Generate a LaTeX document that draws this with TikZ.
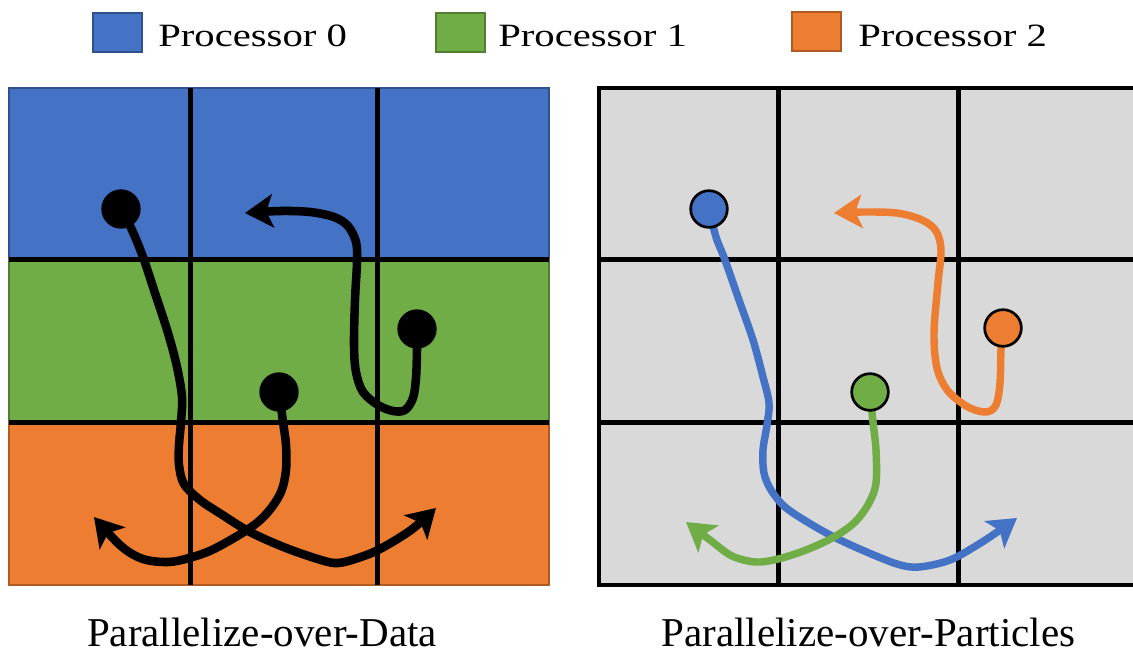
\documentclass[tikz,border=0pt]{standalone}
\usepackage{fontspec}
\setmainfont{Liberation Serif}
\newfontfamily\legendfont{Liberation Serif}[FakeStretch=1.25]
\usetikzlibrary{arrows.meta}
\definecolor{pblue}{HTML}{4472C4}
\definecolor{pgreen}{HTML}{70AD47}
\definecolor{porange}{HTML}{ED7D31}
\definecolor{pblueline}{HTML}{2F528F}
\definecolor{pgreenline}{HTML}{507E32}
\definecolor{porangeline}{HTML}{AE5A21}
\definecolor{cellgray}{HTML}{D9D9D9}
\begin{document}
\begin{tikzpicture}[x=0.75pt,y=-0.75pt,
  gridline/.style={line width=3.75pt, black},
  legendbox/.style={line width=1.2pt, minimum width=36.75pt, minimum height=29.25pt, inner sep=0pt},
  legendtext/.style={anchor=base west, inner sep=0pt, font=\legendfont\fontsize{24.4pt}{28pt}\selectfont},
  caption/.style={anchor=base, inner sep=0pt, font=\fontsize{30.75pt}{36pt}\selectfont},
  traj/.style={line width=6.4pt, line cap=round, line join=round},
  ptraj/.style={line width=5.6pt, line cap=round, line join=round},
  tip/.style={-{Stealth[length=21pt,width=25pt,inset=5pt]}},
  blackdot/.style={circle, fill=black, minimum size=29.5pt, inner sep=0pt},
  pdot/.style={circle, draw=black, line width=2pt, minimum size=27.5pt, inner sep=0pt},
]
\useasboundingbox (0,0) rectangle (1133,654);

% legend
\node[legendbox, fill=pblue, draw=pblueline] (key0) at (117.5,32.5) {};
\node[legendtext] (lab0) at (158,46) {Processor 0};
\node[legendbox, fill=pgreen, draw=pgreenline] (key1) at (460.5,32.5) {};
\node[legendtext] (lab1) at (498,46) {Processor 1};
\node[legendbox, fill=porange, draw=porangeline] (key2) at (816.5,31.5) {};
\node[legendtext] (lab2) at (858,46) {Processor 2};

% data-parallel grid: one band per processor
\filldraw[fill=pblue, draw=pblueline, line width=1pt] (9,88) rectangle (549,259);
\filldraw[fill=pgreen, draw=pgreenline, line width=1pt] (9,259) rectangle (549,422);
\filldraw[fill=porange, draw=porangeline, line width=1pt] (9,422) rectangle (549,585);
\draw[gridline] (190,88) -- (190,585);
\draw[gridline] (377,88) -- (377,585);
\draw[gridline] (9,259) -- (549,259);
\draw[gridline] (9,422) -- (549,422);

% particle-parallel grid
\begin{scope}
\clip (0,0) rectangle (1133,654);
\filldraw[fill=cellgray, draw=black, line width=2.6pt] (599,88) rectangle (1140,585);
\draw[gridline] (778,88) -- (778,585);
\draw[gridline] (958,88) -- (958,585);
\draw[gridline] (599,259) -- (1140,259);
\draw[gridline] (599,422) -- (1140,422);
\end{scope}

% particle seeds
\coordinate (sA) at (121,209);
\coordinate (sB) at (279,392);
\coordinate (sC) at (417,329);
\coordinate (tA) at (709,209);
\coordinate (tB) at (870,392);
\coordinate (tC) at (1003,328);

% trajectories, data-parallel
\draw[traj, tip] plot[smooth, tension=0.55] coordinates {(sA) (132,230) (143,257) (154,290) (168,333) (177,367) (182,397) (181,422) (179,445) (179,465) (184,484) (200,500) (221,514) (250,532) (286,548) (321,560) (338,563) (358,558) (380,549) (411,530) (436,508)};
\draw[traj, tip] plot[smooth, tension=0.55] coordinates {(sB) (283,422) (286,445) (286,470) (281,492) (268,512) (250,528) (214,549) (189,558) (168,562) (143,559) (121,546) (94,517)};
\draw[traj, tip] plot[smooth, tension=0.55] coordinates {(sC) (417,350) (416,378) (413,398) (405,410) (393,411) (378,405) (363,392) (356,372) (354,345) (355,300) (357,262) (356,242) (348,226) (334,217) (310,212) (280,211) (245,213)};

% trajectories, particle-parallel
\draw[ptraj, pblue, tip] plot[smooth, tension=0.55] coordinates {(tA) (716,237) (725,260) (739,300) (753,340) (763,377) (769,403) (767,425) (763,450) (764,473) (771,490) (785,507) (809,523) (834,537) (862,550) (897,564) (919,567) (950,560) (979,544) (1003,528) (1017,518)};
\draw[ptraj, pgreen, tip] plot[smooth, tension=0.55] coordinates {(tB) (873,422) (876,450) (876,483) (869,503) (855,522) (834,537) (806,550) (778,559) (756,562) (732,556) (710,540) (686,522)};
\draw[ptraj, porange, tip] plot[smooth, tension=0.55] coordinates {(tC) (1001,350) (1000,383) (996,405) (986,412) (968,407) (948,391) (937,368) (934,333) (938,283) (941,250) (936,231) (922,220) (897,213) (862,212) (834,213)};

% particles
\node[blackdot] (dotA) at (sA) {};
\node[blackdot] (dotB) at (sB) {};
\node[blackdot] (dotC) at (sC) {};
\node[pdot, fill=pblue] (pA) at (tA) {};
\node[pdot, fill=pgreen] (pB) at (tB) {};
\node[pdot, fill=porange] (pC) at (tC) {};

% captions
\node[caption] (capL) at (262,646) {Parallelize-over-Data};
\node[caption] (capR) at (868.5,646) {Parallelize-over-Particles};
\end{tikzpicture}
\end{document}
